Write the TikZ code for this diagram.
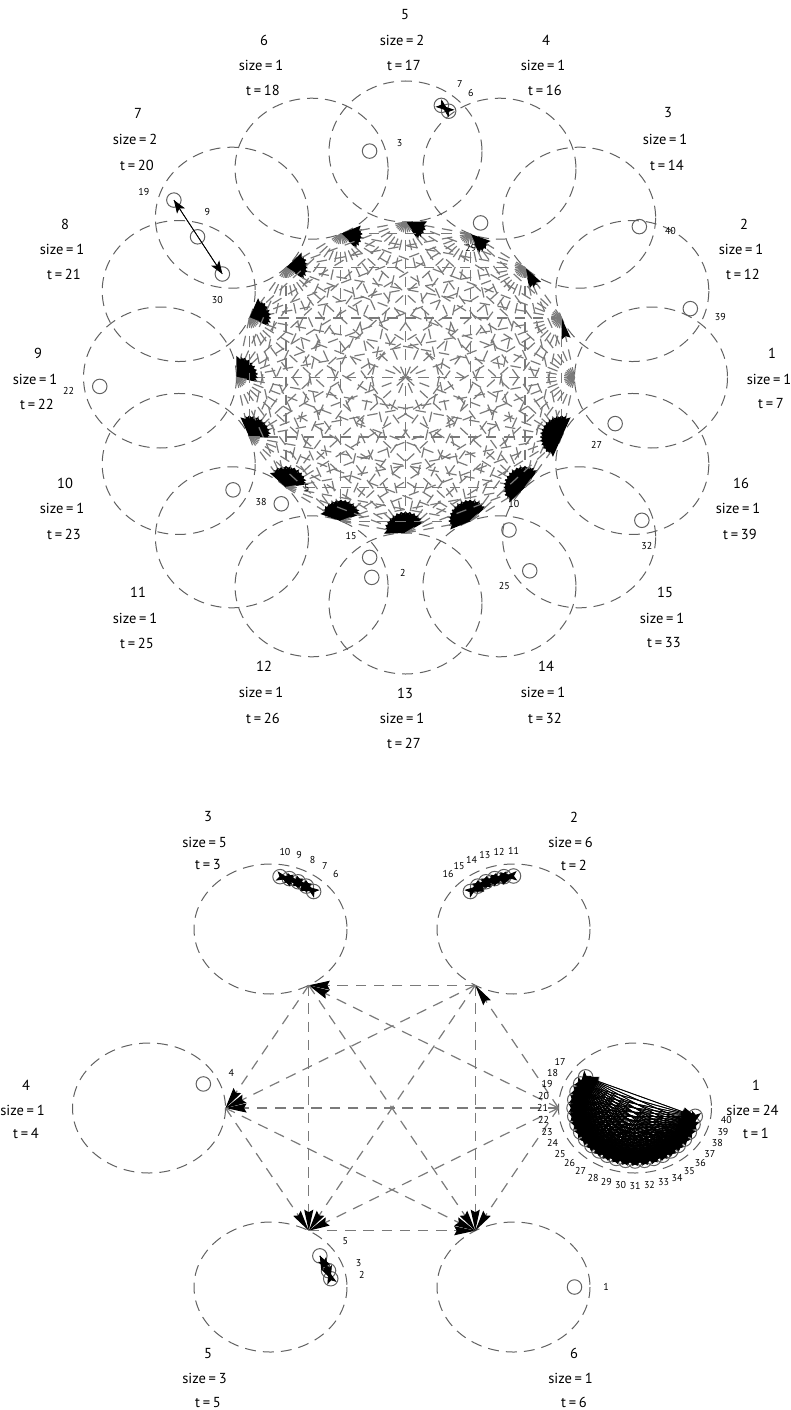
\documentclass[tikz,border=0pt]{standalone}
\usepackage{fontspec}
\setmainfont{PT Sans}
\usetikzlibrary{arrows.meta}
\newcommand{\gp}{\hspace{0.19em}}
\tikzset{
  clusterring/.style={draw=black!62,line width=1pt,dash pattern=on 11pt off 7pt},
  hubedge/.style={draw=black!52,line width=1.2pt,dash pattern=on 10.5pt off 7.7pt,
    arrows={-Stealth[black,length=21pt,width=9pt,inset=2.5pt]}},
  inneredge/.style={draw=black,line width=0.75pt,
    arrows={-Stealth[black,length=13pt,width=9.5pt,inset=3pt]}},
  vert/.style={circle,draw=black!62,line width=1pt,minimum size=14.5pt,inner sep=0pt},
  vlabel/.style={font=\fontsize{10}{10}\selectfont,inner sep=0pt,text=black},
  clabel/.style={font=\fontsize{14.5}{14.5}\selectfont,inner sep=0pt,text=black}
}
\begin{document}
\begin{tikzpicture}[x=1pt,y=-1pt]
\path[use as bounding box] (0,0) rectangle (790,1410);
% ---------- top picture ----------
\foreach \c in {1,...,16}{
  \pgfmathsetmacro\ang{(\c-1)*22.5}
  \coordinate (tc\c) at ({405.5+245.5*cos(\ang)},{377.5-226*sin(\ang)});
  \coordinate (th\c) at ({405.5+169*cos(\ang)},{377.5-155.5*sin(\ang)});
  \draw[clusterring] (tc\c) ellipse [x radius=76.5,y radius=70.5];
}
\foreach \i in {1,...,15}{
  \pgfmathtruncatemacro\n{\i+1}
  \foreach \j in {\n,...,16}{ \draw[hubedge] (th\i) -- (th\j); }
}
\foreach \v/\c in {27/1,39/2,40/3,29/4,7/5,6/5,3/6,19/7,30/7,9/8,22/9,38/10,5/11,2/12,15/13,10/14,25/15,32/16}{
  \pgfmathsetmacro\bng{(\v-1)*9}
  \node[vert] (tv\v) at ([shift={({61*cos(\bng)},{-57*sin(\bng)})}]tc\c) {};
  \node[vlabel] (tl\v) at ([shift={({92.5*cos(\bng)},{-83*sin(\bng)})}]tc\c) {\v};
}
\draw[inneredge] (tv19.center) -- (tv30.center);
\draw[inneredge] (tv30.center) -- (tv19.center);
\draw[inneredge] (tv7.center) -- (tv6.center);
\draw[inneredge] (tv6.center) -- (tv7.center);
% cluster captions: id, x, y1,y2,y3, size, t
\foreach \c/\x/\ya/\yb/\yc/\s/\t in {
  1/772/353/379/404/1/7, 2/744/224/249/274/1/12, 3/668/113/139/165/1/14,
  4/546/40/65/90/1/16, 5/405/15/40/65/2/17, 6/264/40/65/90/1/18,
  7/138/113/139/165/2/20, 8/65/224/249/274/1/21, 9/38/353/379/404/1/22,
  10/65/483/508/534/1/23, 11/138/592/618/643/1/25, 12/264/666/692/718/1/26,
  13/405/693/718/743/1/27, 14/546/666/692/718/1/32, 15/665/592/618/643/1/33,
  16/741/483/508/534/1/39}{
  \node[clabel] (tn\c) at (\x,\ya) {\c};
  \node[clabel] (ts\c) at (\x-3,\yb) {size\gp=\gp\s};
  \node[clabel] (tt\c) at (\x-1,\yc) {t\gp=\gp\t};
}
% ---------- bottom picture ----------
\foreach \c in {1,...,6}{
  \pgfmathsetmacro\ang{(\c-1)*60}
  \coordinate (bc\c) at ({392+243*cos(\ang)},{1108-206.7*sin(\ang)});
  \coordinate (bh\c) at ({392+166.5*cos(\ang)},{1108-141.7*sin(\ang)});
  \draw[clusterring] (bc\c) ellipse [x radius=76.5,y radius=65];
}
\foreach \i in {1,...,5}{
  \pgfmathtruncatemacro\n{\i+1}
  \foreach \j in {\n,...,6}{ \draw[hubedge] (bh\i) -- (bh\j); }
}
\foreach \v/\c in {1/6,2/5,3/5,5/5,4/4,6/3,7/3,8/3,9/3,10/3,11/2,12/2,13/2,14/2,15/2,16/2,
  17/1,18/1,19/1,20/1,21/1,22/1,23/1,24/1,25/1,26/1,27/1,28/1,29/1,30/1,31/1,32/1,33/1,34/1,35/1,36/1,37/1,38/1,39/1,40/1}{
  \pgfmathsetmacro\bng{(\v-1)*9}
  \node[vert] (bv\v) at ([shift={({61*cos(\bng)},{-53*sin(\bng)})}]bc\c) {};
  \node[vlabel] (bl\v) at ([shift={({92.5*cos(\bng)},{-78*sin(\bng)})}]bc\c) {\v};
}
\foreach \i in {17,...,39}{
  \pgfmathtruncatemacro\n{\i+1}
  \foreach \j in {\n,...,40}{
    \draw[inneredge] (bv\i.center) -- (bv\j.center);
    \draw[inneredge] (bv\j.center) -- (bv\i.center);
  }
}
\foreach \i in {11,...,15}{
  \pgfmathtruncatemacro\n{\i+1}
  \foreach \j in {\n,...,16}{
    \draw[inneredge] (bv\i.center) -- (bv\j.center);
    \draw[inneredge] (bv\j.center) -- (bv\i.center);
  }
}
\foreach \i in {6,...,9}{
  \pgfmathtruncatemacro\n{\i+1}
  \foreach \j in {\n,...,10}{
    \draw[inneredge] (bv\i.center) -- (bv\j.center);
    \draw[inneredge] (bv\j.center) -- (bv\i.center);
  }
}
\foreach \i/\j in {2/3,2/5,3/5}{
  \draw[inneredge] (bv\i.center) -- (bv\j.center);
  \draw[inneredge] (bv\j.center) -- (bv\i.center);
}
\foreach \c/\x/\ya/\yb/\yc/\s/\t in {
  1/756/1085/1110/1133/24/1, 2/574/817/842/865/6/2, 3/208/817/842/865/5/3,
  4/26/1085/1110/1133/1/4, 5/208/1353/1378/1402/3/5, 6/574/1353/1378/1402/1/6}{
  \node[clabel] (bn\c) at (\x,\ya) {\c};
  \node[clabel] (bs\c) at (\x-3.5,\yb) {size\gp=\gp\s};
  \node[clabel] (bt\c) at (\x,\yc) {t\gp=\gp\t};
}
\end{tikzpicture}
\end{document}
